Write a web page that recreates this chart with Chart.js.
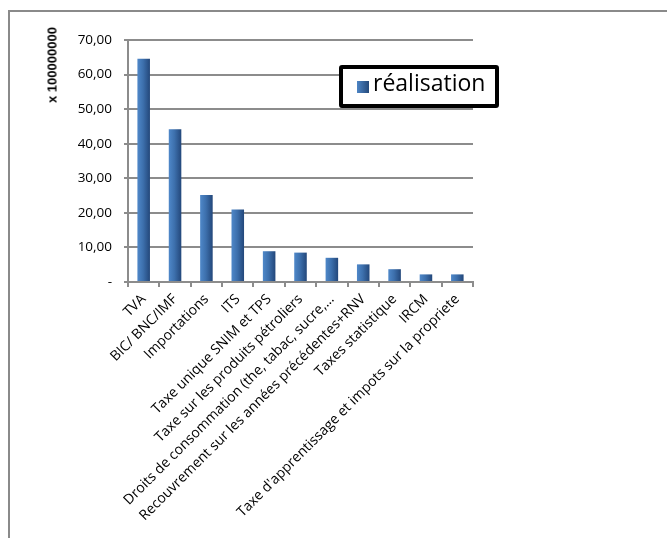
<!DOCTYPE html>
<html>
<head>
<meta charset="utf-8">
<script src="https://cdn.jsdelivr.net/npm/chart.js@4/dist/chart.umd.min.js"></script>
<style>
  html, body { margin: 0; padding: 0; background: #fff; }
  #wrap { position: relative; width: 667px; height: 538px; overflow: hidden; }
  #frame { position: absolute; left: 8px; top: 10px; width: 700px; height: 600px;
           border-left: 2px solid #8a8a8a; border-top: 2px solid #8a8a8a; }
  canvas { position: absolute; left: 0; top: 0; }
  #ytitle { position: absolute; left: 52px; top: 65px; transform: translate(-50%, -50%) rotate(-90deg);
            font: bold 13px "Liberation Sans", Arial, sans-serif; color: #000; white-space: nowrap; }
  #legend { position: absolute; left: 339px; top: 65px; width: 152px; height: 35px;
            border: 4px solid #000; border-radius: 3px; background: #fff;
            font: 23px "Open Sans", sans-serif; color: #000; }
  #legend .sw { position: absolute; left: 14px; top: 12px; width: 12px; height: 12px;
                background: linear-gradient(to right, #4d85c5, #24497a); }
  #legend .tx { position: absolute; left: 30px; top: -3px; white-space: nowrap; }
</style>
</head>
<body>
<div id="wrap">
  <div id="frame"></div>
  <canvas id="c" width="667" height="538"></canvas>
  <div id="ytitle">x 100000000</div>
  <div id="legend"><div class="sw"></div><div class="tx">réalisation</div></div>
</div>
<script>
const categories = [
  "TVA",
  "BIC/ BNC/IMF",
  "Importations",
  "ITS",
  "Taxe unique SNIM et TPS",
  "Taxe sur les produits pétroliers",
  "Droits de consommation (the, tabac, sucre,…",
  "Recouvrement sur les années précédentes+RNV",
  "Taxes statistique",
  "IRCM",
  "Taxe d'apprentissage et impots sur la propriete"
];
const realisation = [64.6, 44.2, 25.2, 21.0, 8.9, 8.5, 7.0, 5.1, 3.7, 2.2, 2.2];
const seriesName = "réalisation";
const yTicks = [0, 10, 20, 30, 40, 50, 60, 70];

const BAR_PCT = 0.4;
const GRID = '#8c8c8c';

function barFill(ctx) {
  const chart = ctx.chart;
  const xs = chart.scales.x;
  if (ctx.type !== 'data' || !xs || !isFinite(xs.left)) return '#3b6ea8';
  const px = xs.getPixelForValue(ctx.dataIndex);
  const cw = (xs.right - xs.left) / categories.length;
  const bw = cw * BAR_PCT;
  if (!isFinite(px) || !isFinite(bw) || bw <= 0) return '#3b6ea8';
  const g = chart.ctx.createLinearGradient(px - bw / 2, 0, px + bw / 2, 0);
  g.addColorStop(0, '#4f88c9');
  g.addColorStop(0.45, '#3d70ad');
  g.addColorStop(1, '#23477a');
  return g;
}

new Chart(document.getElementById('c'), {
  type: 'bar',
  data: {
    labels: categories,
    datasets: [{
      label: seriesName,
      data: realisation,
      backgroundColor: barFill,
      borderWidth: 0,
      barPercentage: BAR_PCT,
      categoryPercentage: 1
    }]
  },
  options: {
    responsive: false,
    animation: false,
    devicePixelRatio: 1,
    layout: { padding: { left: 0, right: 194, top: 40, bottom: 0 } },
    plugins: { legend: { display: false }, tooltip: { enabled: false }, title: { display: false } },
    scales: {
      x: {
        grid: { drawOnChartArea: false, drawTicks: true, tickLength: 5, color: GRID, lineWidth: 2 },
        border: { color: GRID, width: 2 },
        ticks: { color: '#000', font: { family: '"Open Sans", sans-serif', size: 14 },
                 autoSkip: false, minRotation: 45, maxRotation: 45, padding: 4 },
        afterFit: (s) => { s.height = 256; }
      },
      y: {
        min: 0, max: 70,
        afterBuildTicks: (s) => { s.ticks = yTicks.map(v => ({ value: v })); },
        grid: { color: GRID, lineWidth: 2, tickLength: 4 },
        border: { color: GRID, width: 2 },
        ticks: {
          color: '#000', font: { family: '"Open Sans", sans-serif', size: 13.5 }, padding: 12,
          callback: (v) => v === 0 ? '-' : v.toFixed(2).replace('.', ',')
        },
        afterFit: (s) => { s.width = 128; }
      }
    }
  }
});
</script>
</body>
</html>
